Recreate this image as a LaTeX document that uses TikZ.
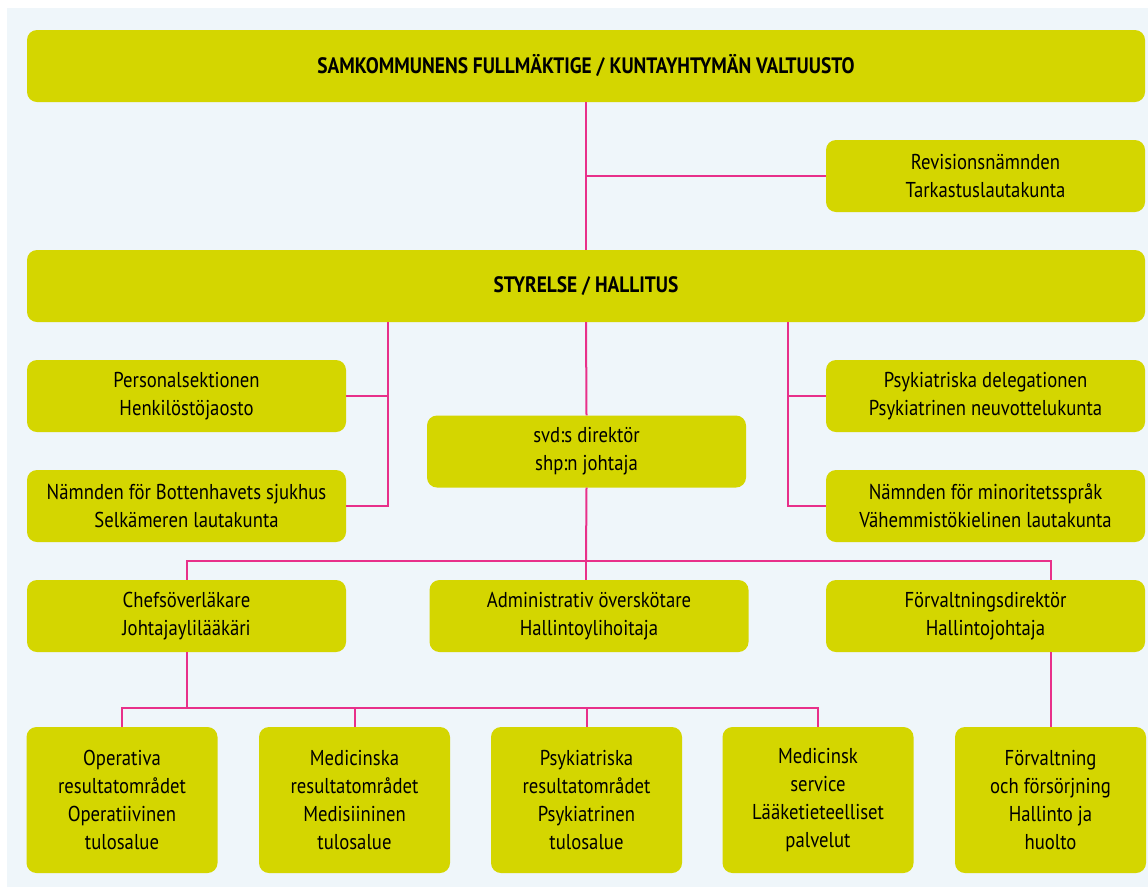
\documentclass[tikz,border=0pt]{standalone}
\usepackage{fontspec}
\setmainfont{PT Sans}[FakeStretch=0.87]
\usetikzlibrary{positioning}

\definecolor{boxgreen}{HTML}{D4D600}
\definecolor{linkpink}{HTML}{E8308A}
\definecolor{bgblue}{HTML}{EFF6FA}

\begin{document}
\begin{tikzpicture}[x=1pt,y=-1pt,
  org/.style={rectangle, rounded corners=10pt, fill=boxgreen, draw=none,
    align=center, inner sep=0pt, font=\fontsize{21.5}{28}\selectfont},
  wide/.style={org, minimum width=1118pt, minimum height=72pt,
    font=\bfseries\fontsize{22.3}{26}\selectfont},
  unit/.style={org, minimum width=319pt, minimum height=72pt},
  area/.style={org, minimum width=191pt, minimum height=146pt},
  link/.style={linkpink, line width=2pt}]
\useasboundingbox (0,0) rectangle (1148,887);
\fill [bgblue] (7,8) rectangle (1148,887);
% boards
\node [wide] (full) at (586,66) {SAMKOMMUNENS FULLMÄKTIGE / KUNTAYHTYMÄN VALTUUSTO};
\node [unit] (rev) at (985.5,176) {Revisionsnämnden\\Tarkastuslautakunta};
\node [wide] (styr) at (586,286) {STYRELSE / HALLITUS};
\node [unit] (pers) at (186.5,396) {Personalsektionen\\Henkilöstöjaosto};
\node [unit] (botten) at (186.5,506) {Nämnden för Bottenhavets sjukhus\\Selkämeren lautakunta};
\node [unit] (psykdel) at (985.5,396) {Psykiatriska delegationen\\Psykiatrinen neuvottelukunta};
\node [unit] (minor) at (985.5,506) {Nämnden för minoritetsspråk\\Vähemmistökielinen lautakunta};
\node [unit] (svd) at (586.5,451.5) {svd:s direktör\\shp:n johtaja};
% managers
\node [unit] (chef) at (186.5,616) {Chefsöverläkare\\Johtajaylilääkäri};
\node [unit] (adm) at (589,616) {Administrativ överskötare\\Hallintoylihoitaja};
\node [unit] (fdir) at (985.5,616) {Förvaltningsdirektör\\Hallintojohtaja};
% result areas
\node [area] (oper) at (122,800) {Operativa\\resultatområdet\\Operatiivinen\\tulosalue};
\node [area] (medi) at (354.5,800) {Medicinska\\resultatområdet\\Medisiininen\\tulosalue};
\node [area] (psyk) at (586.5,800) {Psykiatriska\\resultatområdet\\Psykiatrinen\\tulosalue};
\node [area] (serv) at (818,800) {Medicinsk\\service\\Lääketieteelliset\\palvelut};
\node [area] (forv) at (1050.5,800) {Förvaltning\\och försörjning\\Hallinto ja\\huolto};
% connectors
\coordinate (lb) at (388,0);
\coordinate (rb) at (788,0);
\coordinate (hub) at (586,561);
\coordinate (bus) at (0,708);
\draw [link] (full.south) -- (styr.north);
\draw [link] (rev.west -| full.south) -- (rev.west);
\draw [link] (styr.south -| lb) |- (botten.east);
\draw [link] (pers.east) -- (pers.east -| lb);
\draw [link] (styr.south -| rb) |- (minor.west);
\draw [link] (psykdel.west) -- (psykdel.west -| rb);
\draw [link] (styr.south) -- (svd.north);
\draw [link] (svd.south) -- (hub);
\draw [link] (chef.north) |- (hub) -| (forv.north |- fdir.north);
\draw [link] (hub) -- (hub |- adm.north);
\draw [link] (chef.south) -- (chef.south |- bus);
\draw [link] (oper.north) |- (bus -| serv.north) -- (serv.north);
\draw [link] (medi.north) -- (medi.north |- bus);
\draw [link] (psyk.north) -- (psyk.north |- bus);
\draw [link] (forv.north) -- (forv.north |- fdir.south);
\end{tikzpicture}
\end{document}
